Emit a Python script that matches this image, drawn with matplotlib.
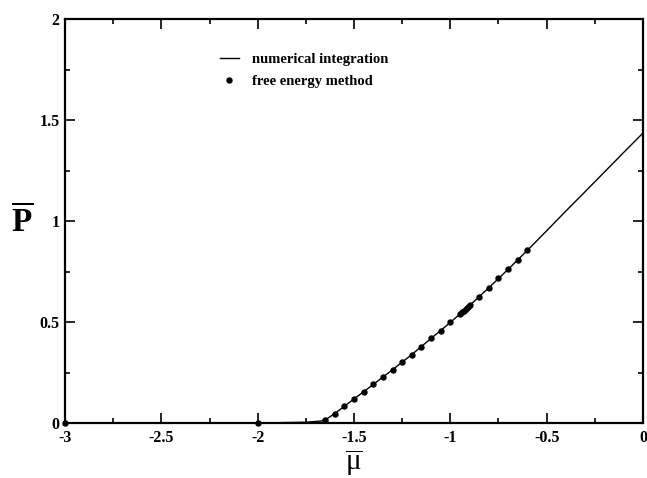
'''
    Pressure vs chemical potential: numerical integration curve
    compared with the free energy method points.
'''

import matplotlib
matplotlib.use('Agg')
import matplotlib.pyplot as plt
from matplotlib.ticker import MultipleLocator, FormatStrFormatter

plt.rcParams['font.family'] = 'Liberation Serif'
plt.rcParams['axes.unicode_minus'] = False
plt.rcParams['mathtext.fontset'] = 'custom'
plt.rcParams['mathtext.rm'] = 'Liberation Serif'
plt.rcParams['mathtext.bf'] = 'Liberation Serif:bold'

# numerical integration curve
mu_line = [-3.0, -2.0, -1.75, -1.67, -1.65, -1.6, -1.5, -1.4, -1.3, -1.2,
           -1.1, -1.0, -0.9, -0.8, -0.7, -0.6, -0.5, -0.4, -0.3, -0.2,
           -0.1, 0.0]
p_line = [0.0, 0.0, 0.004, 0.010, 0.015, 0.047, 0.119, 0.191, 0.264, 0.339,
          0.419, 0.498, 0.582, 0.670, 0.761, 0.855, 0.952, 1.050, 1.146,
          1.243, 1.340, 1.436]

# free energy method points
mu_pts = [-3.0, -2.0, -1.65, -1.6, -1.55, -1.5, -1.45, -1.4, -1.35, -1.3,
          -1.25, -1.2, -1.15, -1.1, -1.05, -1.0, -0.95, -0.94, -0.93, -0.92,
          -0.91, -0.9, -0.85, -0.8, -0.75, -0.7, -0.65, -0.6]
p_pts = [0.0, 0.0, 0.015, 0.047, 0.082, 0.119, 0.155, 0.191, 0.228, 0.264,
         0.300, 0.339, 0.378, 0.419, 0.457, 0.498, 0.540, 0.548, 0.557, 0.565,
         0.574, 0.582, 0.625, 0.670, 0.716, 0.761, 0.807, 0.855]


fig = plt.figure(figsize=(6.47, 4.78), dpi=100)
ax = fig.add_axes([0.1005, 0.115, 0.8933, 0.845])

ax.plot(mu_line, p_line, color='black', lw=1.0, label='numerical integration',
        zorder=2)
ax.plot(mu_pts, p_pts, 'o', color='black', ms=3.6, label='free energy method',
        zorder=3, clip_on=False)

ax.set_xlim(-3, 0)
ax.set_ylim(0, 2)
ax.xaxis.set_major_locator(MultipleLocator(0.5))
ax.xaxis.set_minor_locator(MultipleLocator(0.25))
ax.yaxis.set_major_locator(MultipleLocator(0.5))
ax.yaxis.set_minor_locator(MultipleLocator(0.25))
ax.xaxis.set_major_formatter(FormatStrFormatter('%g'))
ax.yaxis.set_major_formatter(FormatStrFormatter('%g'))
ax.tick_params(which='both', direction='in', top=True, right=True,
               labelsize=11.5, width=1.2)
ax.tick_params(which='major', length=7.5)
ax.tick_params(axis='x', which='major', pad=5)
ax.tick_params(axis='y', which='major', pad=4)
ax.tick_params(which='minor', length=3.8)
for lab in ax.get_xticklabels() + ax.get_yticklabels():
    lab.set_fontweight('bold')
for sp in ax.spines.values():
    sp.set_linewidth(1.6)

ax.set_xlabel(r'$\overline{\mathrm{\mu}}$', fontsize=21, labelpad=1,
              fontweight='normal')
ax.set_ylabel(r'$\overline{\mathbf{P}}$', fontsize=24, rotation=0,
              labelpad=12, va='center')

ax.legend(loc='upper left', bbox_to_anchor=(0.245, 0.95), frameon=False,
          handlelength=1.3, handletextpad=0.9, labelspacing=0.65,
          prop={'weight': 'bold', 'size': 10.5})

fig.savefig('out.png', dpi=100)
